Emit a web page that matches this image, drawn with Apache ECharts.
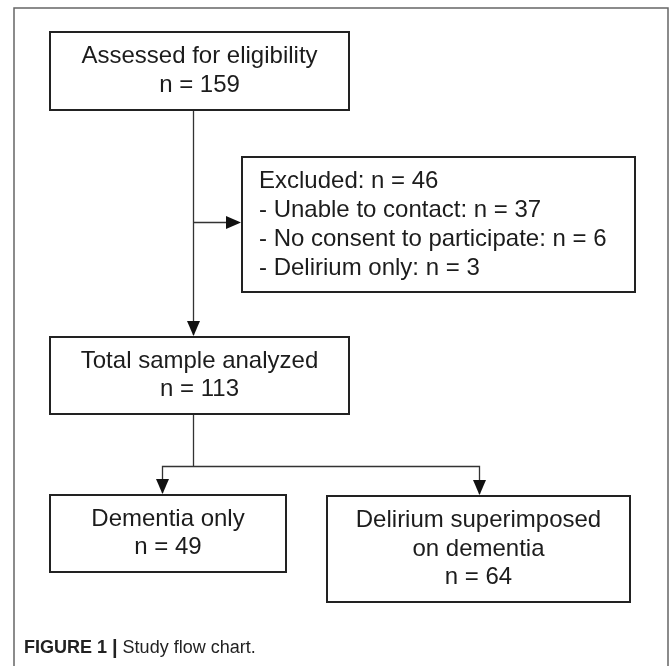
<!DOCTYPE html>
<html>
<head>
<meta charset="utf-8">
<script src="https://cdn.jsdelivr.net/npm/echarts@6/dist/echarts.min.js"></script>
<style>
  html, body { margin: 0; padding: 0; background: #fff; }
  #chart { width: 669px; height: 666px; }
</style>
</head>
<body>
<div id="chart"></div>
<script>
// flow stages and their counts
const stageLabels = ['Assessed for eligibility', 'Total sample analyzed', 'Dementia only', 'Delirium superimposed\non dementia']
const stageCounts = [159, 113, 49, 64]
const excludedTotal = 46
const exclusionReasons = ['Unable to contact', 'No consent to participate', 'Delirium only']
const exclusionCounts = [37, 6, 3]
const captionLabel = 'FIGURE 1'
const captionText = 'Study flow chart.'

// box layout (pixels) - kept apart from the data above
const boxes = [
    { x: 50, y: 32, w: 299, h: 78 },
    { x: 50, y: 337, w: 299, h: 77 },
    { x: 50, y: 495, w: 236, h: 77 },
    { x: 327, y: 496, w: 303, h: 106 }
]
const exclBox = { x: 242, y: 157, w: 393, h: 135 }

const FONT = '"Liberation Sans", Arial, Helvetica, sans-serif'
const INK = '#1c1c1c'
const LINE = '#333'

const elements = []

// outer frame
elements.push({
    type: 'rect',
    shape: { x: 14, y: 8, width: 654, height: 700 },
    style: { fill: 'none', stroke: '#666', lineWidth: 1.5 }
})

function box(b) {
    elements.push({
        type: 'rect',
        shape: { x: b.x, y: b.y, width: b.w, height: b.h },
        style: { fill: '#fff', stroke: '#222', lineWidth: 2 },
        z: 2
    })
}

function centeredLines(b, lines, size, lh) {
    const cx = b.x + b.w / 2
    const cy = b.y + b.h / 2
    const top = cy - (lines.length - 1) * lh / 2
    lines.forEach((t, i) => {
        elements.push({
            type: 'text',
            x: cx,
            y: top + i * lh,
            z: 3,
            style: {
                text: t,
                font: size + 'px ' + FONT,
                fill: INK,
                align: 'center',
                verticalAlign: 'middle'
            }
        })
    })
}

function line(points) {
    elements.push({
        type: 'polyline',
        shape: { points: points },
        style: { stroke: LINE, lineWidth: 1.3, fill: null },
        z: 1
    })
}

// arrow head with its tip at (x, y); dir 'down' or 'right'
function head(x, y, dir) {
    const pts = dir === 'down'
        ? [[x, y], [x - 6.5, y - 15], [x + 6.5, y - 15]]
        : [[x, y], [x - 15, y - 6.5], [x - 15, y + 6.5]]
    elements.push({
        type: 'polygon',
        shape: { points: pts },
        style: { fill: '#111' },
        z: 3
    })
}

// stage boxes
boxes.forEach((b, i) => {
    box(b)
    const lines = stageLabels[i].split('\n').concat('n = ' + stageCounts[i])
    centeredLines(b, lines, 24, 28.5)
})

// exclusion box
box(exclBox)
const exclLines = ['Excluded: n = ' + excludedTotal].concat(
    exclusionReasons.map((r, i) => '- ' + r + ': n = ' + exclusionCounts[i])
)
const exLh = 29
const exTop = exclBox.y + exclBox.h / 2 - (exclLines.length - 1) * exLh / 2
exclLines.forEach((t, i) => {
    elements.push({
        type: 'text',
        x: 259,
        y: exTop + i * exLh,
        z: 3,
        style: {
            text: t,
            font: '24px ' + FONT,
            fill: INK,
            align: 'left',
            verticalAlign: 'middle'
        }
    })
})

// connectors
const mainX = 193.5
line([[mainX, boxes[0].y + boxes[0].h], [mainX, boxes[1].y - 2]])
head(mainX, boxes[1].y - 1, 'down')

const exY = 222.5
line([[mainX, exY], [exclBox.x - 4, exY]])
head(exclBox.x - 1, exY, 'right')

const splitY = 466.5
const leftX = 162.5
const rightX = 479.5
line([[mainX, boxes[1].y + boxes[1].h], [mainX, splitY]])
line([[leftX, boxes[2].y - 2], [leftX, splitY], [rightX, splitY], [rightX, boxes[3].y - 2]])
head(leftX, boxes[2].y - 1, 'down')
head(rightX, boxes[3].y - 1, 'down')

// caption
elements.push({
    type: 'text',
    x: 24,
    y: 648,
    style: {
        text: '{b|' + captionLabel + '} {s||} ' + captionText,
        font: '18px ' + FONT,
        fill: '#222',
        verticalAlign: 'middle',
        rich: {
            b: { fontWeight: 'bold', fontSize: 18, fontFamily: FONT, fill: '#222' },
            s: { fontWeight: 'bold', fontSize: 20, fontFamily: FONT, fill: '#222' }
        }
    }
})

const chart = echarts.init(document.getElementById('chart'))
chart.setOption({
    backgroundColor: '#fff',
    animation: false,
    graphic: { elements: elements }
})
</script>
</body>
</html>
